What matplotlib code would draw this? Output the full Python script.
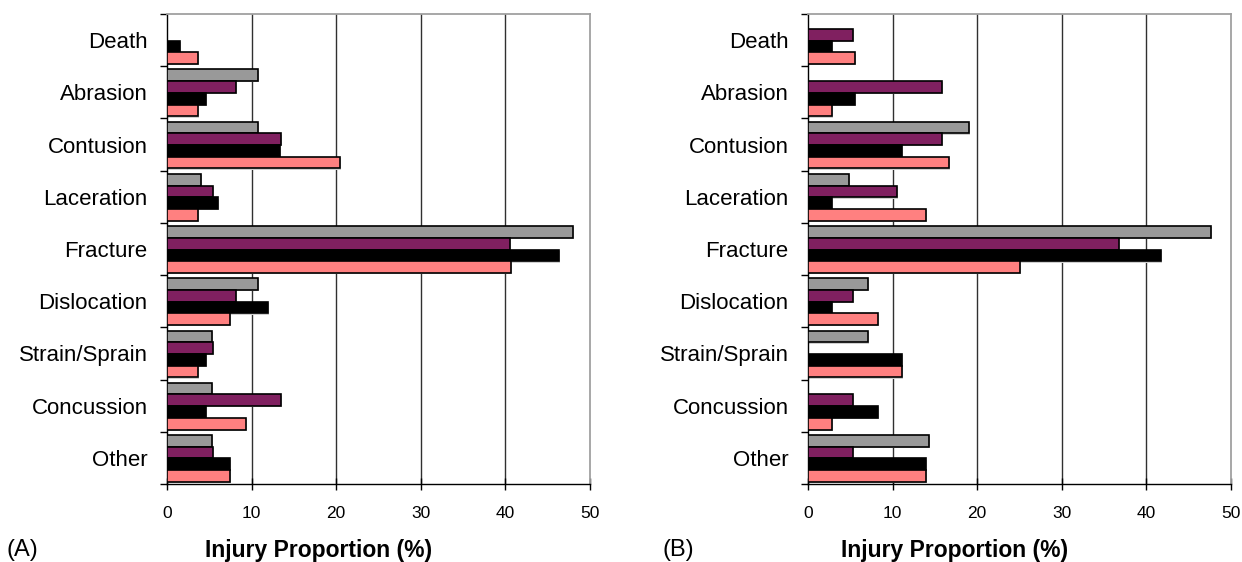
import matplotlib
matplotlib.use("Agg")
import numpy as np
import matplotlib.pyplot as plt

plt.rcParams["font.family"] = ["Liberation Sans", "DejaVu Sans"]

categories = ["Death", "Abrasion", "Contusion", "Laceration", "Fracture",
              "Dislocation", "Strain/Sprain", "Concussion", "Other"]

# panel A, series drawn top to bottom within each category
a_gray = [0, 10.7, 10.7, 4.0, 48.0, 10.7, 5.3, 5.3, 5.3]
a_purple = [0, 8.1, 13.5, 5.4, 40.5, 8.1, 5.4, 13.5, 5.4]
a_black = [1.5, 4.6, 13.4, 6.0, 46.3, 11.9, 4.6, 4.6, 7.5]
a_pink = [3.7, 3.7, 20.4, 3.7, 40.7, 7.4, 3.7, 9.3, 7.4]

# panel B
b_gray = [0, 0, 19.0, 4.8, 47.6, 7.1, 7.1, 0, 14.3]
b_purple = [5.3, 15.8, 15.8, 10.5, 36.8, 5.3, 0, 5.3, 5.3]
b_black = [2.8, 5.6, 11.1, 2.8, 41.7, 2.8, 11.1, 8.3, 13.9]
b_pink = [5.6, 2.8, 16.7, 13.9, 25.0, 8.3, 11.1, 2.8, 13.9]

colors = ["#999999", "#802060", "#000000", "#FF8080"]

W, H = 1242, 562
fig = plt.figure(figsize=(W / 100, H / 100), dpi=100)


def panel(left, series, letter, label_x, letter_x):
    ax = fig.add_axes([left / W, 78 / H, 423 / W, 470 / H])
    y = np.arange(len(categories))
    bh = 0.224
    for k, (vals, c) in enumerate(zip(series, colors)):
        pos = y + (k - 1.5) * bh + 0.01
        # faint drop shadow
        ax.barh(pos + 0.025, vals, height=bh, left=0.12, color="#d0d0d0",
                edgecolor="none", zorder=2)
        ax.barh(pos, vals, height=bh, color=c, edgecolor="black",
                linewidth=1.2, zorder=3)
    ax.set_xlim(0, 50)
    ax.set_ylim(len(categories) - 0.5, -0.5)
    ax.set_xticks(range(0, 51, 10))
    ax.tick_params(axis="x", direction="inout", length=8, width=1,
                   labelsize=12.5, pad=12)
    ax.set_yticks(y)
    ax.set_yticklabels(categories, fontsize=16)
    ax.tick_params(axis="y", which="major", length=0, pad=14)
    ax.set_yticks(np.arange(-0.5, len(categories), 1), minor=True)
    ax.tick_params(axis="y", which="minor", direction="out", length=5, width=1)
    for xv in [10, 20, 30, 40]:
        ax.axvline(xv, color="#303030", lw=1, zorder=1)
    for s in ["top", "right"]:
        ax.spines[s].set_color("#a0a0a0")
        ax.spines[s].set_linewidth(1.3)
    for s in ["left", "bottom"]:
        ax.spines[s].set_color("black")
        ax.spines[s].set_linewidth(1.0)
    fig.text(label_x / W, 1 - 550 / H, "Injury Proportion (%)", fontsize=16.5,
             fontweight="bold", ha="center", va="center")
    fig.text(letter_x / W, 1 - 550 / H, letter, fontsize=17,
             ha="left", va="center")
    return ax


panel(167, [a_gray, a_purple, a_black, a_pink], "(A)", 319, 7)
panel(808, [b_gray, b_purple, b_black, b_pink], "(B)", 955, 662)

fig.savefig("out.png", dpi=100)
